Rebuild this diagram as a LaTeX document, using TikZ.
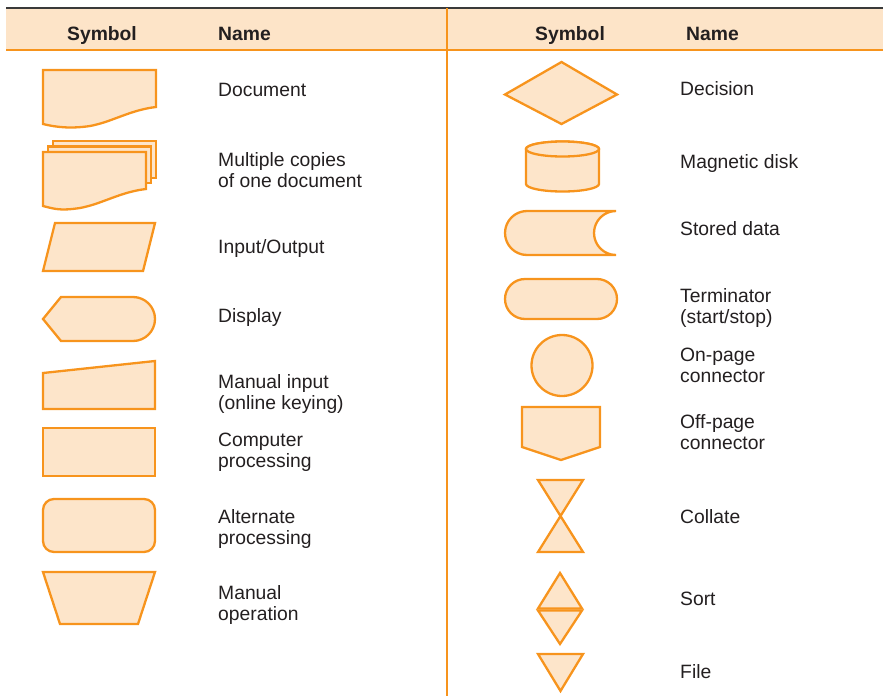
\documentclass[tikz,border=0pt]{standalone}
\usepackage{fontspec}
\setmainfont{Liberation Sans}
\definecolor{flowor}{HTML}{F7941D}
\definecolor{flowfill}{HTML}{FDE5CA}
\definecolor{headfill}{HTML}{FDE4C8}
\definecolor{inkgray}{HTML}{231F20}
\definecolor{rulegray}{HTML}{3A3A3A}
\newcommand\labelfont{\fontsize{19.3}{21}\selectfont}
% document outline: left x, top y, width, height of the left edge
\newcommand\docpath[4]{%
  (#1,{#2+#4}) -- (#1,#2) -- ({#1+#3},#2) -- ({#1+#3},{#2+#4-17})
  .. controls ({#1+#3-26},{#2+#4-14}) and ({#1+#3-44},{#2+#4-2}) .. ({#1+#3-66},{#2+#4+2})
  .. controls ({#1+#3-86},{#2+#4+5}) and ({#1+12},{#2+#4+3}) .. (#1,{#2+#4}) -- cycle}
\begin{document}
\begin{tikzpicture}[x=1pt,y=-1pt,
  sym/.style={draw=flowor, fill=flowfill, line width=2.3pt, line join=miter},
  lbl/.style={anchor=base west, font=\labelfont, text=inkgray, inner sep=0pt, align=left},
  head/.style={anchor=base, font=\labelfont\bfseries, text=inkgray, inner sep=0pt}]
\useasboundingbox (0,0) rectangle (883,696);

% table header band and rules
\fill[headfill] (6,8) rectangle (883,50);
\draw[rulegray, line width=1.4pt] (6,8) -- (883,8);
\draw[flowor, line width=2pt] (6,50) -- (883,50);
\draw[flowor, line width=2pt] (446.5,8) -- (446.5,696);

\node[head] (hsymL) at (102,40.5) {Symbol};
\node[head, anchor=base west] (hnameL) at (218,40.5) {Name};
\node[head] (hsymR) at (570,40.5) {Symbol};
\node[head, anchor=base west] (hnameR) at (686,40.5) {Name};

% ---- left column symbols ----
% document
\draw[sym] \docpath{43}{70}{113}{54};
% multiple copies
\draw[sym] (53,141) rectangle (156,178);
\draw[sym] (48,146.5) rectangle (151,183);
\draw[sym] \docpath{43}{152}{103}{54};
% input/output
\draw[sym] (43,271) -- (55,223) -- (155,223) -- (143,271) -- cycle;
% display
\draw[sym] (43,319) -- (61,297) -- (133,297) arc (90:-90:22pt) -- (61,341) -- cycle;
% manual input
\draw[sym] (43,373) -- (155,361) -- (155,409) -- (43,409) -- cycle;
% computer processing
\draw[sym] (43,428) rectangle (155,476);
% alternate processing
\draw[sym, rounded corners=11pt] (43,499) rectangle (155,552);
% manual operation
\draw[sym] (43,572) -- (155,572) -- (138,624) -- (60,624) -- cycle;

% ---- right column symbols ----
% decision
\draw[sym] (505,94.5) -- (561.5,62) -- (617,94.5) -- (561.5,124) -- cycle;
% magnetic disk
\draw[sym] (526,149) -- (526,184) arc (180:360:36.5pt and 7.5pt) -- (599,149)
  arc (0:180:36.5pt and 7.5pt) -- cycle;
\draw[sym] (562.5,149) ellipse [x radius=36.5pt, y radius=7.5pt];
% stored data
\draw[sym] (527,211) -- (616,211) arc (90:270:22pt) -- (527,255) arc (270:90:22pt) -- cycle;
% terminator
\draw[sym] (525,279) -- (597,279) arc (90:-90:20pt) -- (525,319) arc (270:90:20pt) -- cycle;
% on-page connector
\draw[sym] (562,365.5) circle [radius=30.5pt];
% off-page connector
\draw[sym] (522,407) -- (600,407) -- (600,447) -- (561,460) -- (522,447) -- cycle;
% collate
\draw[sym] (538,480) -- (583,480) -- (538,552) -- (583,552) -- cycle;
% sort
\draw[sym] (560,573) -- (582,608.5) -- (538,608.5) -- cycle;
\draw[sym] (538,610.5) -- (582,610.5) -- (560,644) -- cycle;
% file
\draw[sym] (538,654) -- (583,654) -- (560.5,691) -- cycle;

% ---- names, left column (base = baseline of the last line) ----
\node[lbl] (tdoc) at (218,96) {Document};
\node[lbl] (tcopies) at (218,187.5) {Multiple copies\\of one document};
\node[lbl] (tio) at (218,253) {Input/Output};
\node[lbl] (tdisplay) at (218,322) {Display};
\node[lbl] (tmanin) at (218,409) {Manual input\\(online keying)};
\node[lbl] (tcomp) at (218,467) {Computer\\processing};
\node[lbl] (talt) at (218,544) {Alternate\\processing};
\node[lbl] (tmanop) at (218,620) {Manual\\operation};

% ---- names, right column ----
\node[lbl] (tdec) at (680,95) {Decision};
\node[lbl] (tdisk) at (680,168) {Magnetic disk};
\node[lbl] (tstored) at (680,235) {Stored data};
\node[lbl] (tterm) at (680,323.5) {Terminator\\(start/stop)};
\node[lbl] (ton) at (680,382.5) {On-page\\connector};
\node[lbl] (toff) at (680,449) {Off-page\\connector};
\node[lbl] (tcoll) at (680,523) {Collate};
\node[lbl] (tsort) at (680,605) {Sort};
\node[lbl] (tfile) at (680,678) {File};
\end{tikzpicture}
\end{document}
